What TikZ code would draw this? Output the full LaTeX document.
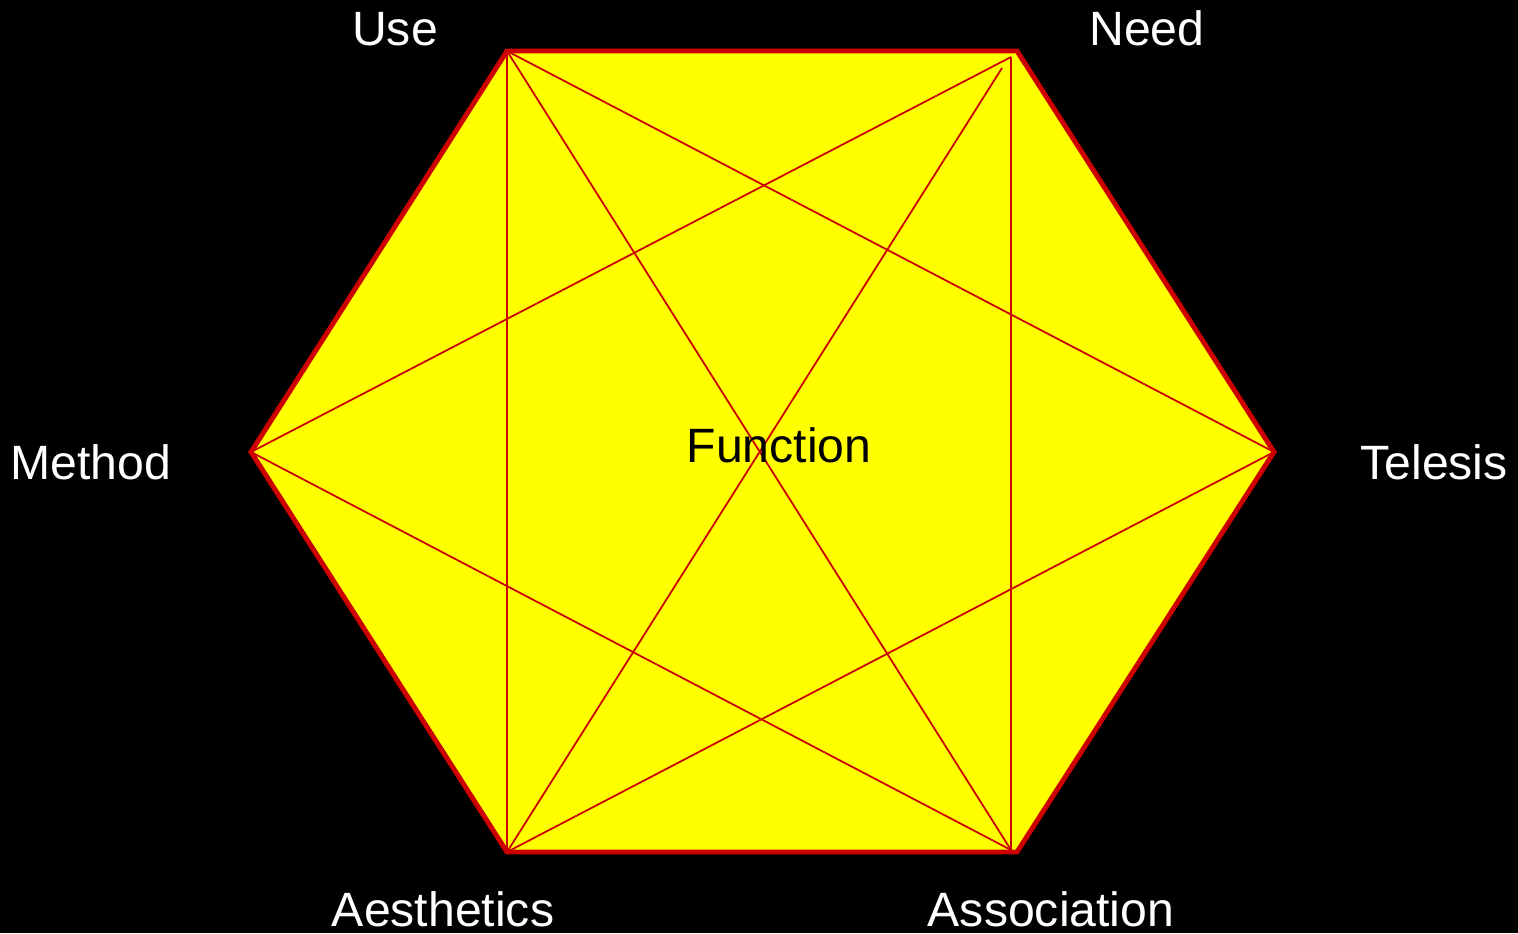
\documentclass[tikz,border=0pt]{standalone}
\usepackage{fontspec}
\setmainfont{Liberation Sans}
\definecolor{hexred}{HTML}{CC0000}
\definecolor{hexyel}{HTML}{FFFF00}
\begin{document}
\begin{tikzpicture}[x=0.01cm,y=-0.01cm,
  lbl/.style={text=white,font=\fontsize{13.7pt}{16pt}\selectfont,anchor=base,inner sep=0pt},
  inner/.style={draw=hexred,line width=0.5pt},
  rim/.style={draw=hexred,fill=hexyel,line width=1.4pt,line join=miter}]
\fill[black] (0,0) rectangle (1518,933);
\useasboundingbox (0,0) rectangle (1518,933);
\coordinate (U) at (507,51);
\coordinate (N) at (1017,51);
\coordinate (T) at (1274,452);
\coordinate (As) at (1017,852);
\coordinate (Ae) at (507,852);
\coordinate (M) at (251,452);
\coordinate (N1) at (1011,57);
\coordinate (N2) at (1002,68);
\coordinate (As1) at (1011,850);
\coordinate (U1) at (507,850);
\path[rim] (U) -- (N) -- (T) -- (As) -- (Ae) -- (M) -- cycle;
\draw[inner] (U) -- (U1);
\draw[inner] (N1) -- (As1);
\draw[inner] (U) -- (T);
\draw[inner] (U) -- (As1);
\draw[inner] (N1) -- (M);
\draw[inner] (N2) -- (Ae);
\draw[inner] (M) -- (As1);
\draw[inner] (Ae) -- (T);
\node[lbl] (lu) at (395,45) {Use};
\node[lbl] (ln) at (1147,45) {Need};
\node[lbl] (lm) at (91,479) {Method};
\node[lbl] (lt) at (1434,479) {Telesis};
\node[lbl] (lae) at (443,926) {Aesthetics};
\node[lbl] (las) at (1051,926) {Association};
\node[lbl,text=black] (lf) at (779,462) {Function};
\end{tikzpicture}
\end{document}
